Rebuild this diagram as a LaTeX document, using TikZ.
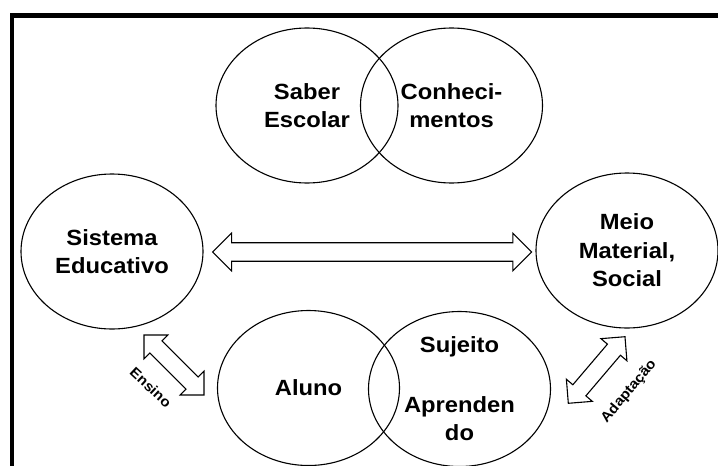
\documentclass[tikz,border=0pt]{standalone}
\usepackage{fontspec}
\setmainfont{Liberation Sans}[FakeStretch=1.08]
\usetikzlibrary{shapes.geometric,shapes.arrows,calc}

\newcommand{\setadupla}[4][]{%
  \path let \p1=($(#4)-(#3)$), \n1={veclen(\x1,\y1)}, \n2={atan2(\y1,\x1)} in
    node [seta, #1, minimum height=\n1, rotate=\n2] (#2) at ($(#3)!0.5!(#4)$) {};%
}

\begin{document}
\begin{tikzpicture}[x=1pt, y=-1pt,
	circulo/.style={draw, ellipse, line width=1.1pt, minimum width=182pt, minimum height=155pt,
		inner sep=0pt, align=center, font={\fontsize{22}{28.5}\selectfont\bfseries}},
	seta/.style={draw, double arrow, line width=1.1pt, inner xsep=0pt, inner ysep=8.7pt,
		double arrow head extend=9.6pt},
	rotulo/.style={inner sep=0pt, font={\fontsize{14}{16}\selectfont\bfseries}}]
		\useasboundingbox (0,0) rectangle (718,466);
		\clip (0,0) rectangle (718,466);
		%\draw [help lines, step=50] (0,0) grid (718,466);
		\draw [line width=4.5pt] (11.8,480) -- (11.8,15.3) -- (730,15.3);

		\node [circulo] (saber) at (307,105.5) {Saber\\Escolar};
		\node [circulo] (conhec) at (451.5,105.5) {Conheci-\\mentos};
		\node [circulo] (sistema) at (112,251.5) {Sistema\\Educativo};
		\node [circulo] (meio) at (627,250.5) {Meio\\Material,\\Social};
		\node [circulo] (aluno) at (308.5,388) {Aluno};
		\node [circulo] (sujeito) at (459.5,389) {Sujeito\\[31pt]Aprenden\\do};

		% pontas das setas
		\coordinate (eixoA) at (212.7,252);
		\coordinate (eixoB) at (531.7,252);
		\coordinate (ensA) at (144,335);
		\coordinate (ensB) at (204,395);
		\coordinate (adaA) at (568.3,403.3);
		\coordinate (adaB) at (625,336.7);

		\setadupla{eixo}{eixoA}{eixoB}
		\setadupla[inner ysep=8pt, double arrow head extend=8.3pt]{ensino}{ensA}{ensB}
		\setadupla[inner ysep=8pt, double arrow head extend=8.5pt]{adapt}{adaA}{adaB}

		\node [rotulo, rotate=-43] (lensino) at (150.8,387.5) {Ensino};
		\node [rotulo, rotate=50] (ladapt) at (629,391.5) {Adaptação};
	\end{tikzpicture}
\end{document}
